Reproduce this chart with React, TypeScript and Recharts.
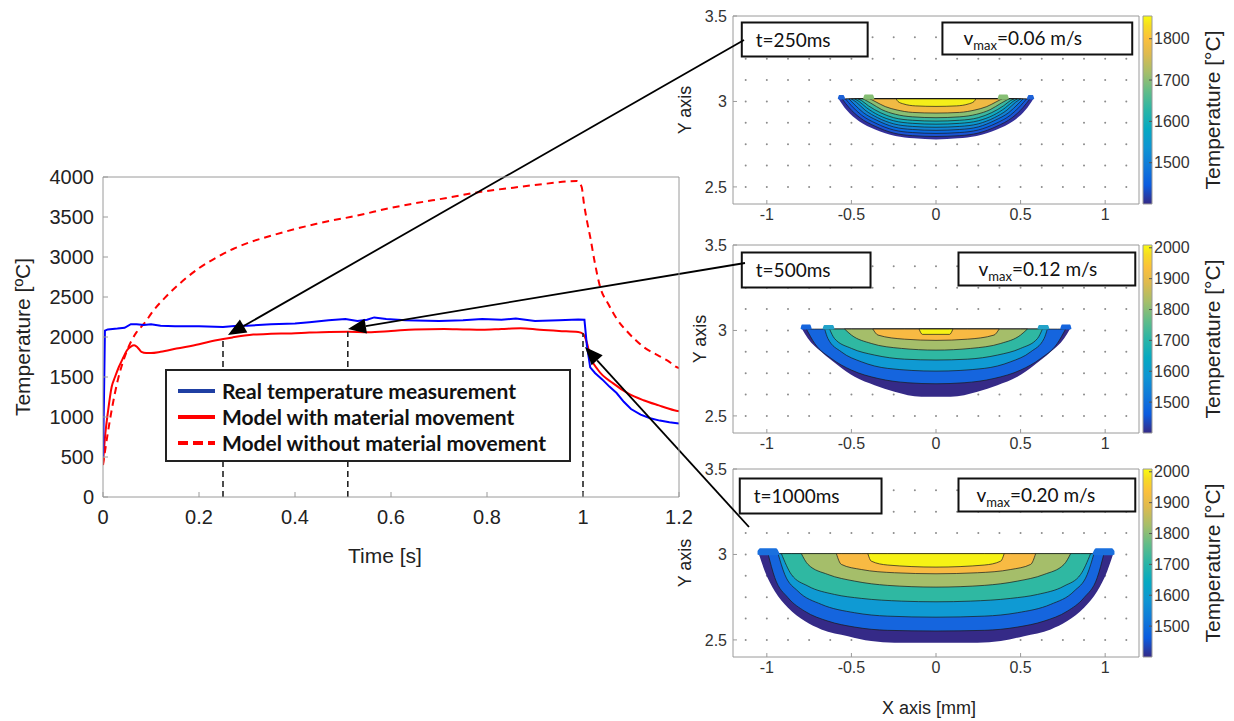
import React from "react";
import {
  LineChart,
  Line,
  XAxis,
  YAxis,
  ReferenceLine,
  Legend,
  ComposedChart,
  Area,
  Scatter,
  ReferenceArea,
} from "recharts";

// ---------------- main chart data ----------------
const timeTicks = [0, 0.2, 0.4, 0.6, 0.8, 1, 1.2];
const tempTicks = [0, 500, 1000, 1500, 2000, 2500, 3000, 3500, 4000];

const realMeasurement: number[][] = [
  [0, 500], [0.002, 1200], [0.004, 2080], [0.01, 2095], [0.03, 2105], [0.045, 2115],
  [0.058, 2160], [0.07, 2160], [0.085, 2150], [0.1, 2160], [0.12, 2140], [0.15, 2135],
  [0.2, 2135], [0.25, 2125], [0.28, 2140], [0.3, 2140], [0.35, 2160], [0.4, 2170],
  [0.43, 2185], [0.47, 2210], [0.505, 2225], [0.53, 2200], [0.55, 2215], [0.565, 2245],
  [0.59, 2225], [0.63, 2210], [0.7, 2200], [0.75, 2210], [0.79, 2225], [0.83, 2215],
  [0.86, 2230], [0.9, 2200], [0.95, 2210], [0.99, 2220], [1.003, 2215], [1.008, 1900],
  [1.015, 1620], [1.025, 1550], [1.04, 1470], [1.055, 1380], [1.07, 1300], [1.085, 1190],
  [1.1, 1100], [1.12, 1030], [1.14, 985], [1.16, 955], [1.18, 935], [1.2, 920],
];

const modelWithMovement: number[][] = [
  [0, 420], [0.005, 800], [0.01, 1050], [0.018, 1375], [0.025, 1500], [0.033, 1625],
  [0.042, 1740], [0.05, 1834], [0.058, 1880], [0.065, 1896], [0.072, 1870], [0.08, 1815],
  [0.09, 1800], [0.1, 1800], [0.12, 1815], [0.153, 1855], [0.2, 1910], [0.233, 1955],
  [0.27, 1995], [0.313, 2030], [0.35, 2040], [0.392, 2045], [0.43, 2055], [0.472, 2063],
  [0.51, 2065], [0.552, 2060], [0.6, 2075], [0.65, 2095], [0.711, 2100], [0.75, 2095],
  [0.79, 2090], [0.83, 2100], [0.87, 2110], [0.91, 2090], [0.95, 2075], [0.99, 2063],
  [1.0, 2040], [1.008, 1930], [1.015, 1760], [1.031, 1590], [1.063, 1420], [1.094, 1295],
  [1.126, 1210], [1.158, 1145], [1.19, 1085], [1.2, 1070],
];

const modelWithoutMovement: number[][] = [
  [0, 400], [0.01, 800], [0.02, 1150], [0.03, 1440], [0.04, 1660], [0.05, 1830],
  [0.06, 1960], [0.07, 2060], [0.08, 2130], [0.09, 2200], [0.1, 2290], [0.133, 2515],
  [0.167, 2705], [0.2, 2860], [0.237, 2995], [0.271, 3100], [0.306, 3185], [0.341, 3250],
  [0.376, 3310], [0.41, 3365], [0.445, 3415], [0.48, 3460], [0.515, 3500], [0.55, 3545],
  [0.577, 3584], [0.646, 3667], [0.716, 3738], [0.785, 3813], [0.855, 3867], [0.924, 3917],
  [0.987, 3950], [0.997, 3880], [1.002, 3667], [1.008, 3459], [1.015, 3250], [1.025, 2917],
  [1.035, 2640], [1.053, 2410], [1.07, 2230], [1.091, 2075], [1.11, 1960], [1.128, 1867],
  [1.147, 1800], [1.165, 1742], [1.18, 1690], [1.193, 1630], [1.2, 1610],
];

const legendLabels = [
  "Real temperature measurement",
  "Model with material movement",
  "Model without material movement",
];

// snapshot markers (time, temperature on curve)
const snapshotTimes = [0.25, 0.51, 1.0];
const snapshotTemps = [1985, 2065, 2050];
// annotation arrows: tail (next to the inset labels) -> tip (on the curve), data units
const arrowTails = [[1.3354, 5712], [1.3375, 2925], [1.3458, -375]];
const arrowTips = [[0.2604, 2025], [0.5104, 2100], [1.0042, 1875]];

// ---------------- inset data ----------------
const insetXTicks = [-1, -0.5, 0, 0.5, 1];
const insetYTicks = [2.5, 3, 3.5];
const quiverX = [-1.125, -1, -0.875, -0.75, -0.625, -0.5, -0.375, -0.25, -0.125, 0, 0.125, 0.25, 0.375, 0.5, 0.625, 0.75, 0.875, 1, 1.125];
const quiverY = [2.5, 2.625, 2.75, 2.875, 3, 3.125, 3.25, 3.375];

const snapshotLabels = ["t=250ms", "t=500ms", "t=1000ms"];
const vmaxValues = ["0.06", "0.12", "0.20"];
const colorbarRanges = [[1400, 1855], [1400, 2009], [1400, 2009]];
const colorbarTicks = [
  [1500, 1600, 1700, 1800],
  [1500, 1600, 1700, 1800, 1900, 2000],
  [1500, 1600, 1700, 1800, 1900, 2000],
];
const poolTop = [3.015, 3.008, 3.005];

// contour lines, right half [x, y] from the centre (x=0) to where they meet the surface
const pool250 = [
  [[0, 2.777], [0.13, 2.784], [0.24, 2.798], [0.36, 2.836], [0.455, 2.884], [0.53, 2.951], [0.575, 3.015]],
  [[0, 2.795], [0.14, 2.8], [0.25, 2.815], [0.36, 2.855], [0.45, 2.905], [0.515, 2.965], [0.555, 3.015]],
  [[0, 2.813], [0.14, 2.818], [0.25, 2.833], [0.355, 2.872], [0.44, 2.92], [0.5, 2.975], [0.535, 3.015]],
  [[0, 2.831], [0.14, 2.836], [0.25, 2.851], [0.35, 2.89], [0.43, 2.935], [0.485, 2.985], [0.515, 3.015]],
  [[0, 2.849], [0.14, 2.854], [0.25, 2.869], [0.345, 2.905], [0.42, 2.95], [0.47, 2.995], [0.5, 3.015]],
  [[0, 2.867], [0.14, 2.872], [0.25, 2.887], [0.34, 2.92], [0.41, 2.963], [0.455, 3.0], [0.48, 3.015]],
  [[0, 2.885], [0.14, 2.89], [0.25, 2.905], [0.33, 2.935], [0.4, 2.975], [0.44, 3.005], [0.46, 3.015]],
  [[0, 2.905], [0.14, 2.91], [0.24, 2.925], [0.32, 2.952], [0.385, 2.99], [0.43, 3.015]],
  [[0, 2.932], [0.14, 2.936], [0.23, 2.95], [0.3, 2.97], [0.36, 3.0], [0.39, 3.015]],
  [[0, 2.971], [0.12, 2.974], [0.19, 2.985], [0.225, 3.0], [0.235, 3.015]],
];
const pool500 = [
  [[0, 2.612], [0.087, 2.612], [0.245, 2.641], [0.363, 2.68], [0.481, 2.729], [0.58, 2.797], [0.678, 2.875], [0.757, 2.953], [0.792, 3.008]],
  [[0, 2.688], [0.166, 2.694], [0.343, 2.719], [0.5, 2.768], [0.619, 2.836], [0.717, 2.924], [0.766, 3.008]],
  [[0, 2.762], [0.285, 2.778], [0.442, 2.817], [0.56, 2.875], [0.639, 2.953], [0.658, 3.008]],
  [[0, 2.827], [0.186, 2.832], [0.363, 2.856], [0.5, 2.895], [0.6, 2.953], [0.629, 3.008]],
  [[0, 2.885], [0.205, 2.895], [0.383, 2.924], [0.5, 2.973], [0.54, 3.008]],
  [[0, 2.942], [0.186, 2.949], [0.343, 2.973], [0.373, 3.008]],
  [[0, 2.977], [0.08, 2.977], [0.1, 3.008]],
];
const pool1000 = [
  [[0, 2.484], [0.245, 2.484], [0.383, 2.493], [0.52, 2.522], [0.678, 2.561], [0.776, 2.61], [0.875, 2.688], [0.953, 2.785], [1.012, 2.902], [1.048, 3.005]],
  [[0, 2.552], [0.285, 2.556], [0.481, 2.575], [0.639, 2.61], [0.776, 2.668], [0.875, 2.747], [0.953, 2.864], [0.993, 3.005]],
  [[0, 2.633], [0.285, 2.639], [0.481, 2.659], [0.678, 2.708], [0.816, 2.785], [0.894, 2.883], [0.934, 3.005]],
  [[0, 2.723], [0.205, 2.727], [0.442, 2.743], [0.6, 2.766], [0.757, 2.815], [0.855, 2.883], [0.914, 3.005]],
  [[0, 2.809], [0.285, 2.819], [0.481, 2.844], [0.639, 2.883], [0.757, 2.942], [0.796, 3.005]],
  [[0, 2.887], [0.245, 2.893], [0.442, 2.912], [0.56, 2.942], [0.589, 3.005]],
  [[0, 2.926], [0.285, 2.938], [0.383, 2.961], [0.403, 3.005]],
];
const pools = [pool250, pool500, pool1000];

// small bumps of the free surface at the pool edges: left side [x, low, high]
const ears250 = [
  [[-0.58, 3.015, 3.02], [-0.572, 3.012, 3.038], [-0.548, 3.012, 3.038], [-0.538, 3.015, 3.02]],
  [[-0.43, 3.015, 3.02], [-0.42, 3.012, 3.04], [-0.375, 3.012, 3.04], [-0.365, 3.015, 3.02]],
];
const ears500 = [
  [[-0.8, 3.008, 3.015], [-0.792, 3.005, 3.035], [-0.745, 3.005, 3.035], [-0.735, 3.008, 3.012]],
  [[-0.67, 3.008, 3.012], [-0.66, 3.005, 3.032], [-0.61, 3.005, 3.032], [-0.6, 3.008, 3.012]],
];
const ears1000 = [
  [[-1.055, 3.0, 3.02], [-1.04, 2.995, 3.037], [-0.945, 2.995, 3.037], [-0.925, 3.0, 3.005]],
];
const ears = [ears250, ears500, ears1000];

// ---------------- styles ----------------
const AXIS_FONT = "'Liberation Sans', Arial, sans-serif";
const TEXT_FONT = "Lato, 'Open Sans', sans-serif";
const AXIS_GRAY = "#9a9a9a";
const seriesColors = ["#0000ff", "#ff0000", "#ff0000"];
const legendSampleColors = ["#1f3fa3", "#ff0000", "#ff0000"];
const palettes = [
  ["#33309a", "#1a55d6", "#0b6ae0", "#1282d5", "#0a9ad1", "#13abbf", "#3bb7a0", "#8abf73", "#f0ba44", "#f4ee1a"],
  ["#352a87", "#1565de", "#0f9ad3", "#2fb8a2", "#a5be6a", "#f8ba43", "#f6f215"],
  ["#352a87", "#1565de", "#0f9ad3", "#2fb8a2", "#a5be6a", "#f8ba43", "#f6f215"],
];
const earPalettes = [["#1d62d8", "#86bf74"], ["#1565de", "#22a3c9"], ["#1a70de"]];
const parulaStops: [number, string][] = [
  [0, "#352a87"], [0.1, "#0b5bdf"], [0.2, "#1079d9"], [0.3, "#0e95d3"], [0.4, "#06a9c1"],
  [0.5, "#2ab5a6"], [0.6, "#62bc88"], [0.7, "#a6be6a"], [0.8, "#dfba4e"], [0.88, "#fbc03c"],
  [0.95, "#f6dc22"], [1, "#f9fb0e"],
];
const insetTops = [15.5, 244.5, 468.5];
const yLabelX = [45, 60, 45];
const tBoxes = [[-1.148, -0.404, 3.263, 3.462], [-1.148, -0.387, 3.251, 3.456], [-1.16, -0.322, 3.24, 3.444]];
const vBoxes = [[0.038, 1.16, 3.275, 3.462], [0.133, 1.178, 3.263, 3.456], [0.133, 1.178, 3.251, 3.444]];
const vTextPad = [21, 20, 18];

const toPoints = (arr: number[][]) => arr.map(([t, v]) => ({ t, v }));

const mirrorPool = (half: number[][], top: number) => {
  const left = half
    .slice(1)
    .reverse()
    .map(([x, y]) => ({ x: -x, y: [y, top] }));
  const right = half.map(([x, y]) => ({ x, y: [y, top] }));
  return [...left, ...right];
};
const earData = (ear: number[][], side: number) => {
  const pts = ear.map(([x, lo, hi]) => ({ x: x * side, y: [lo, hi] }));
  return side < 0 ? pts.slice().reverse() : pts;
};

const ArrowShape = (props: any) => {
  const { x1, y1, x2, y2 } = props;
  const dx = x2 - x1;
  const dy = y2 - y1;
  const len = Math.hypot(dx, dy) || 1;
  const ux = dx / len;
  const uy = dy / len;
  const hl = 18;
  const hw = 7.5;
  const bx = x2 - ux * hl;
  const by = y2 - uy * hl;
  return (
    <g>
      <line x1={x1} y1={y1} x2={bx} y2={by} stroke="#000" strokeWidth={1.8} />
      <polygon
        points={`${x2},${y2} ${bx - uy * hw},${by + ux * hw} ${bx + uy * hw},${by - ux * hw}`}
        fill="#000"
      />
    </g>
  );
};

const renderLegend = () => (
  <div
    style={{
      width: 406,
      height: 93,
      boxSizing: "border-box",
      border: "2px solid #222",
      background: "#fff",
      position: "relative",
    }}
  >
    {legendLabels.map((lab, i) => (
      <div
        key={lab}
        style={{
          position: "absolute",
          left: 0,
          top: 7 + i * 26,
          height: 26,
          display: "flex",
          alignItems: "center",
          whiteSpace: "nowrap",
        }}
      >
        <svg width={50} height={26} style={{ display: "block" }}>
          <line
            x1={11}
            x2={48}
            y1={13}
            y2={13}
            stroke={legendSampleColors[i]}
            strokeWidth={4}
            strokeDasharray={i === 2 ? "10 5" : undefined}
          />
        </svg>
        <span
          style={{
            marginLeft: 5,
            fontFamily: TEXT_FONT,
            fontWeight: 700,
            fontSize: 21,
            color: "#111",
            lineHeight: "26px",
          }}
        >
          {lab}
        </span>
      </div>
    ))}
  </div>
);

const tickMain = { fill: "#222", fontSize: 20, fontFamily: AXIS_FONT };
const tickInset = { fill: "#333", fontSize: 16, fontFamily: AXIS_FONT };

const INSET_W = 510;
const INSET_H = 268;
const INSET_MARGIN = { top: 9, right: 10, bottom: 2, left: 53 };

// axes of an inset; the overlay copy is invisible but keeps the same plot area
function insetAxes(k: number, visible: boolean) {
  const stroke = visible ? AXIS_GRAY : "none";
  return [
    <XAxis
      key="xb"
      type="number"
      dataKey="x"
      domain={[-1.2, 1.2]}
      ticks={insetXTicks}
      allowDataOverflow
      height={68}
      tickSize={-4}
      tickMargin={9}
      stroke={stroke}
      axisLine={visible}
      tickLine={visible}
      tick={visible ? tickInset : false}
      tickFormatter={(v: number) => String(v)}
      label={
        visible && k === 2
          ? {
              content: () => (
                <text
                  x={289}
                  y={249}
                  textAnchor="middle"
                  dominantBaseline="central"
                  fontSize={18}
                  fontFamily={AXIS_FONT}
                  fill="#222"
                >
                  X axis [mm]
                </text>
              ),
            }
          : undefined
      }
    />,
    <XAxis
      key="xt"
      xAxisId="top"
      orientation="top"
      type="number"
      domain={[-1.2, 1.2]}
      ticks={insetXTicks}
      allowDataOverflow
      height={1}
      tick={false}
      tickSize={-4}
      axisLine={visible}
      tickLine={visible}
      stroke={stroke}
    />,
    <YAxis
      key="yl"
      type="number"
      domain={[2.4, 3.5]}
      ticks={insetYTicks}
      allowDataOverflow
      width={40}
      tickSize={-4}
      tickMargin={10}
      stroke={stroke}
      axisLine={visible}
      tickLine={visible}
      tick={visible ? tickInset : false}
      tickFormatter={(v: number) => String(v)}
      label={
        visible
          ? {
              content: () => (
                <text
                  x={yLabelX[k]}
                  y={104}
                  transform={`rotate(-90 ${yLabelX[k]} 104)`}
                  textAnchor="middle"
                  dominantBaseline="central"
                  fontSize={18}
                  fontFamily={AXIS_FONT}
                  fill="#222"
                >
                  Y axis
                </text>
              ),
            }
          : undefined
      }
    />,
    <YAxis
      key="yr"
      yAxisId="right"
      orientation="right"
      type="number"
      domain={[2.4, 3.5]}
      ticks={insetYTicks}
      allowDataOverflow
      width={1}
      tick={false}
      tickSize={-4}
      axisLine={visible}
      tickLine={visible}
      stroke={stroke}
    />,
  ];
}

function Inset({ k }: { k: number }) {
  const T = poolTop[k];
  const pool = pools[k];
  const pal = palettes[k];
  const dots = quiverY.flatMap((y) => quiverX.map((x) => ({ x, y })));
  const tb = tBoxes[k];
  const vb = vBoxes[k];
  return (
    <div style={{ position: "absolute", left: 640, top: insetTops[k] - 10, width: INSET_W, height: INSET_H }}>
      {/* base layer: axes and velocity-field sample points */}
      <div style={{ position: "absolute", left: 0, top: 0 }}>
        <ComposedChart width={INSET_W} height={INSET_H} margin={INSET_MARGIN}>
          {insetAxes(k, true)}
          <Scatter
            data={dots}
            dataKey="y"
            isAnimationActive={false}
            shape={(p: any) => <circle cx={p.cx} cy={p.cy} r={1} fill="#8c8c8c" />}
          />
        </ComposedChart>
      </div>
      {/* top layer: temperature contours and text boxes */}
      <div style={{ position: "absolute", left: 0, top: 0 }}>
        <ComposedChart width={INSET_W} height={INSET_H} margin={INSET_MARGIN}>
          {insetAxes(k, false)}
          {pool.map((c, i) => (
            <Area
              key={`c${i}`}
              data={mirrorPool(c, T)}
              dataKey="y"
              type="monotone"
              fill={pal[i]}
              fillOpacity={1}
              stroke={i === 0 ? "none" : "#1a1a1a"}
              strokeWidth={0.7}
              dot={false}
              activeDot={false}
              isAnimationActive={false}
            />
          ))}
          {ears[k].flatMap((ear, i) =>
            [-1, 1].map((side) => (
              <Area
                key={`e${i}${side}`}
                data={earData(ear, side)}
                dataKey="y"
                type="monotone"
                fill={earPalettes[k][i]}
                fillOpacity={1}
                stroke="none"
                dot={false}
                activeDot={false}
                isAnimationActive={false}
              />
            ))
          )}
          <ReferenceArea
            x1={tb[0]}
            x2={tb[1]}
            y1={tb[2]}
            y2={tb[3]}
            fill="#fff"
            fillOpacity={1}
            stroke="#111"
            strokeWidth={2}
            ifOverflow="visible"
            label={{
              content: (p: any) => {
                const vb2 = p.viewBox || {};
                return (
                  <text
                    x={vb2.x + 14}
                    y={vb2.y + vb2.height / 2 + 7}
                    fontSize={19}
                    fontFamily={TEXT_FONT}
                    fill="#111"
                  >
                    {snapshotLabels[k]}
                  </text>
                );
              },
            }}
          />
          <ReferenceArea
            x1={vb[0]}
            x2={vb[1]}
            y1={vb[2]}
            y2={vb[3]}
            fill="#fff"
            fillOpacity={1}
            stroke="#111"
            strokeWidth={2}
            ifOverflow="visible"
            label={{
              content: (p: any) => {
                const vb2 = p.viewBox || {};
                return (
                  <text
                    x={vb2.x + vTextPad[k]}
                    y={vb2.y + vb2.height / 2 + 7}
                    fontSize={19}
                    fontFamily={TEXT_FONT}
                    fill="#111"
                  >
                    v
                    <tspan fontSize={13} dy={5}>
                      max
                    </tspan>
                    <tspan dy={-5}>={vmaxValues[k]} m/s</tspan>
                  </text>
                );
              },
            }}
          />
        </ComposedChart>
      </div>
    </div>
  );
}

function Colorbar({ k }: { k: number }) {
  const [lo, hi] = colorbarRanges[k];
  const gid = `parula${k}`;
  const barData = [
    { x: 0, y: [lo, hi] },
    { x: 1, y: [lo, hi] },
  ];
  return (
    <div style={{ position: "absolute", left: 1100, top: insetTops[k] - 10 }}>
      <ComposedChart
        width={134}
        height={208}
        data={barData}
        margin={{ top: 10, right: 0, bottom: 10, left: 43 }}
      >
        <defs>
          <linearGradient id={gid} x1="0" y1="1" x2="0" y2="0">
            {parulaStops.map(([o, c]) => (
              <stop key={o} offset={o} stopColor={c} />
            ))}
          </linearGradient>
        </defs>
        <XAxis type="number" dataKey="x" domain={[0, 1]} hide />
        <YAxis
          orientation="right"
          type="number"
          domain={[lo, hi]}
          ticks={colorbarTicks[k]}
          allowDataOverflow
          width={82}
          tickSize={-3}
          tickMargin={5}
          axisLine={false}
          stroke="#555"
          tick={tickInset}
          label={{
            content: () => (
              <text
                x={112}
                y={104}
                transform="rotate(-90 112 104)"
                textAnchor="middle"
                dominantBaseline="central"
                fontSize={21}
                fontFamily={AXIS_FONT}
                fill="#222"
              >
                Temperature [°C]
              </text>
            ),
          }}
        />
        <Area
          dataKey="y"
          type="linear"
          fill={`url(#${gid})`}
          fillOpacity={1}
          stroke="none"
          dot={false}
          activeDot={false}
          isAnimationActive={false}
        />
        <ReferenceArea
          x1={0}
          x2={1}
          y1={lo}
          y2={hi}
          fill="none"
          stroke={AXIS_GRAY}
          strokeWidth={1}
          ifOverflow="visible"
        />
      </ComposedChart>
    </div>
  );
}

function MainChart() {
  return (
    <LineChart width={1234} height={721} margin={{ top: 176, right: 554, bottom: 194, left: 53 }}>
      <XAxis
        type="number"
        dataKey="t"
        domain={[0, 1.2]}
        ticks={timeTicks}
        allowDataOverflow
        height={30}
        tickSize={-5}
        tickMargin={18}
        stroke={AXIS_GRAY}
        tick={tickMain}
        tickFormatter={(v: number) => String(v)}
        label={{
          content: () => (
            <text
              x={385}
              y={555}
              textAnchor="middle"
              dominantBaseline="central"
              fontSize={21}
              fontFamily={AXIS_FONT}
              fill="#222"
            >
              Time [s]
            </text>
          ),
        }}
      />
      <XAxis
        xAxisId="top"
        orientation="top"
        type="number"
        domain={[0, 1.2]}
        ticks={timeTicks}
        allowDataOverflow
        height={1}
        tick={false}
        tickSize={-5}
        stroke={AXIS_GRAY}
      />
      <YAxis
        type="number"
        domain={[0, 4000]}
        ticks={tempTicks}
        allowDataOverflow
        width={50}
        tickSize={-5}
        tickMargin={14}
        stroke={AXIS_GRAY}
        tick={tickMain}
        label={{
          content: () => (
            <text
              x={22}
              y={337}
              transform="rotate(-90 22 337)"
              textAnchor="middle"
              dominantBaseline="central"
              fontSize={21}
              fontFamily={AXIS_FONT}
              fill="#222"
            >
              Temperature [ºC]
            </text>
          ),
        }}
      />
      <YAxis
        yAxisId="right"
        orientation="right"
        type="number"
        domain={[0, 4000]}
        ticks={tempTicks}
        allowDataOverflow
        width={1}
        tick={false}
        tickSize={-5}
        stroke={AXIS_GRAY}
      />
      <Line
        data={toPoints(modelWithoutMovement)}
        dataKey="v"
        type="monotone"
        stroke={seriesColors[2]}
        strokeWidth={2}
        strokeDasharray="7 5"
        dot={false}
        activeDot={false}
        isAnimationActive={false}
        name={legendLabels[2]}
      />
      <Line
        data={toPoints(modelWithMovement)}
        dataKey="v"
        type="monotone"
        stroke={seriesColors[1]}
        strokeWidth={2}
        dot={false}
        activeDot={false}
        isAnimationActive={false}
        name={legendLabels[1]}
      />
      <Line
        data={toPoints(realMeasurement)}
        dataKey="v"
        type="linear"
        stroke={seriesColors[0]}
        strokeWidth={2}
        dot={false}
        activeDot={false}
        isAnimationActive={false}
        name={legendLabels[0]}
      />
      {snapshotTimes.map((t, i) => (
        <ReferenceLine
          key={`s${i}`}
          segment={[
            { x: t, y: 0 },
            { x: t, y: snapshotTemps[i] },
          ]}
          stroke="#222"
          strokeWidth={1.6}
          strokeDasharray="6 4"
        />
      ))}
      {arrowTails.map((tail, i) => (
        <ReferenceLine
          key={`a${i}`}
          segment={[
            { x: tail[0], y: tail[1] },
            { x: arrowTips[i][0], y: arrowTips[i][1] },
          ]}
          ifOverflow="visible"
          shape={ArrowShape}
        />
      ))}
      <Legend
        layout="vertical"
        align="center"
        verticalAlign="middle"
        content={renderLegend}
        wrapperStyle={{ left: 165, top: 369, width: 406, height: 93 }}
      />
    </LineChart>
  );
}

export default function App() {
  return (
    <div
      style={{
        position: "absolute",
        left: 0,
        top: 0,
        width: 1234,
        height: 721,
        background: "#fff",
        overflow: "hidden",
      }}
    >
      {[0, 1, 2].map((k) => (
        <Inset key={`i${k}`} k={k} />
      ))}
      {[0, 1, 2].map((k) => (
        <Colorbar key={`c${k}`} k={k} />
      ))}
      <div style={{ position: "absolute", left: 0, top: 0, pointerEvents: "none", zIndex: 2 }}>
        <MainChart />
      </div>
    </div>
  );
}
